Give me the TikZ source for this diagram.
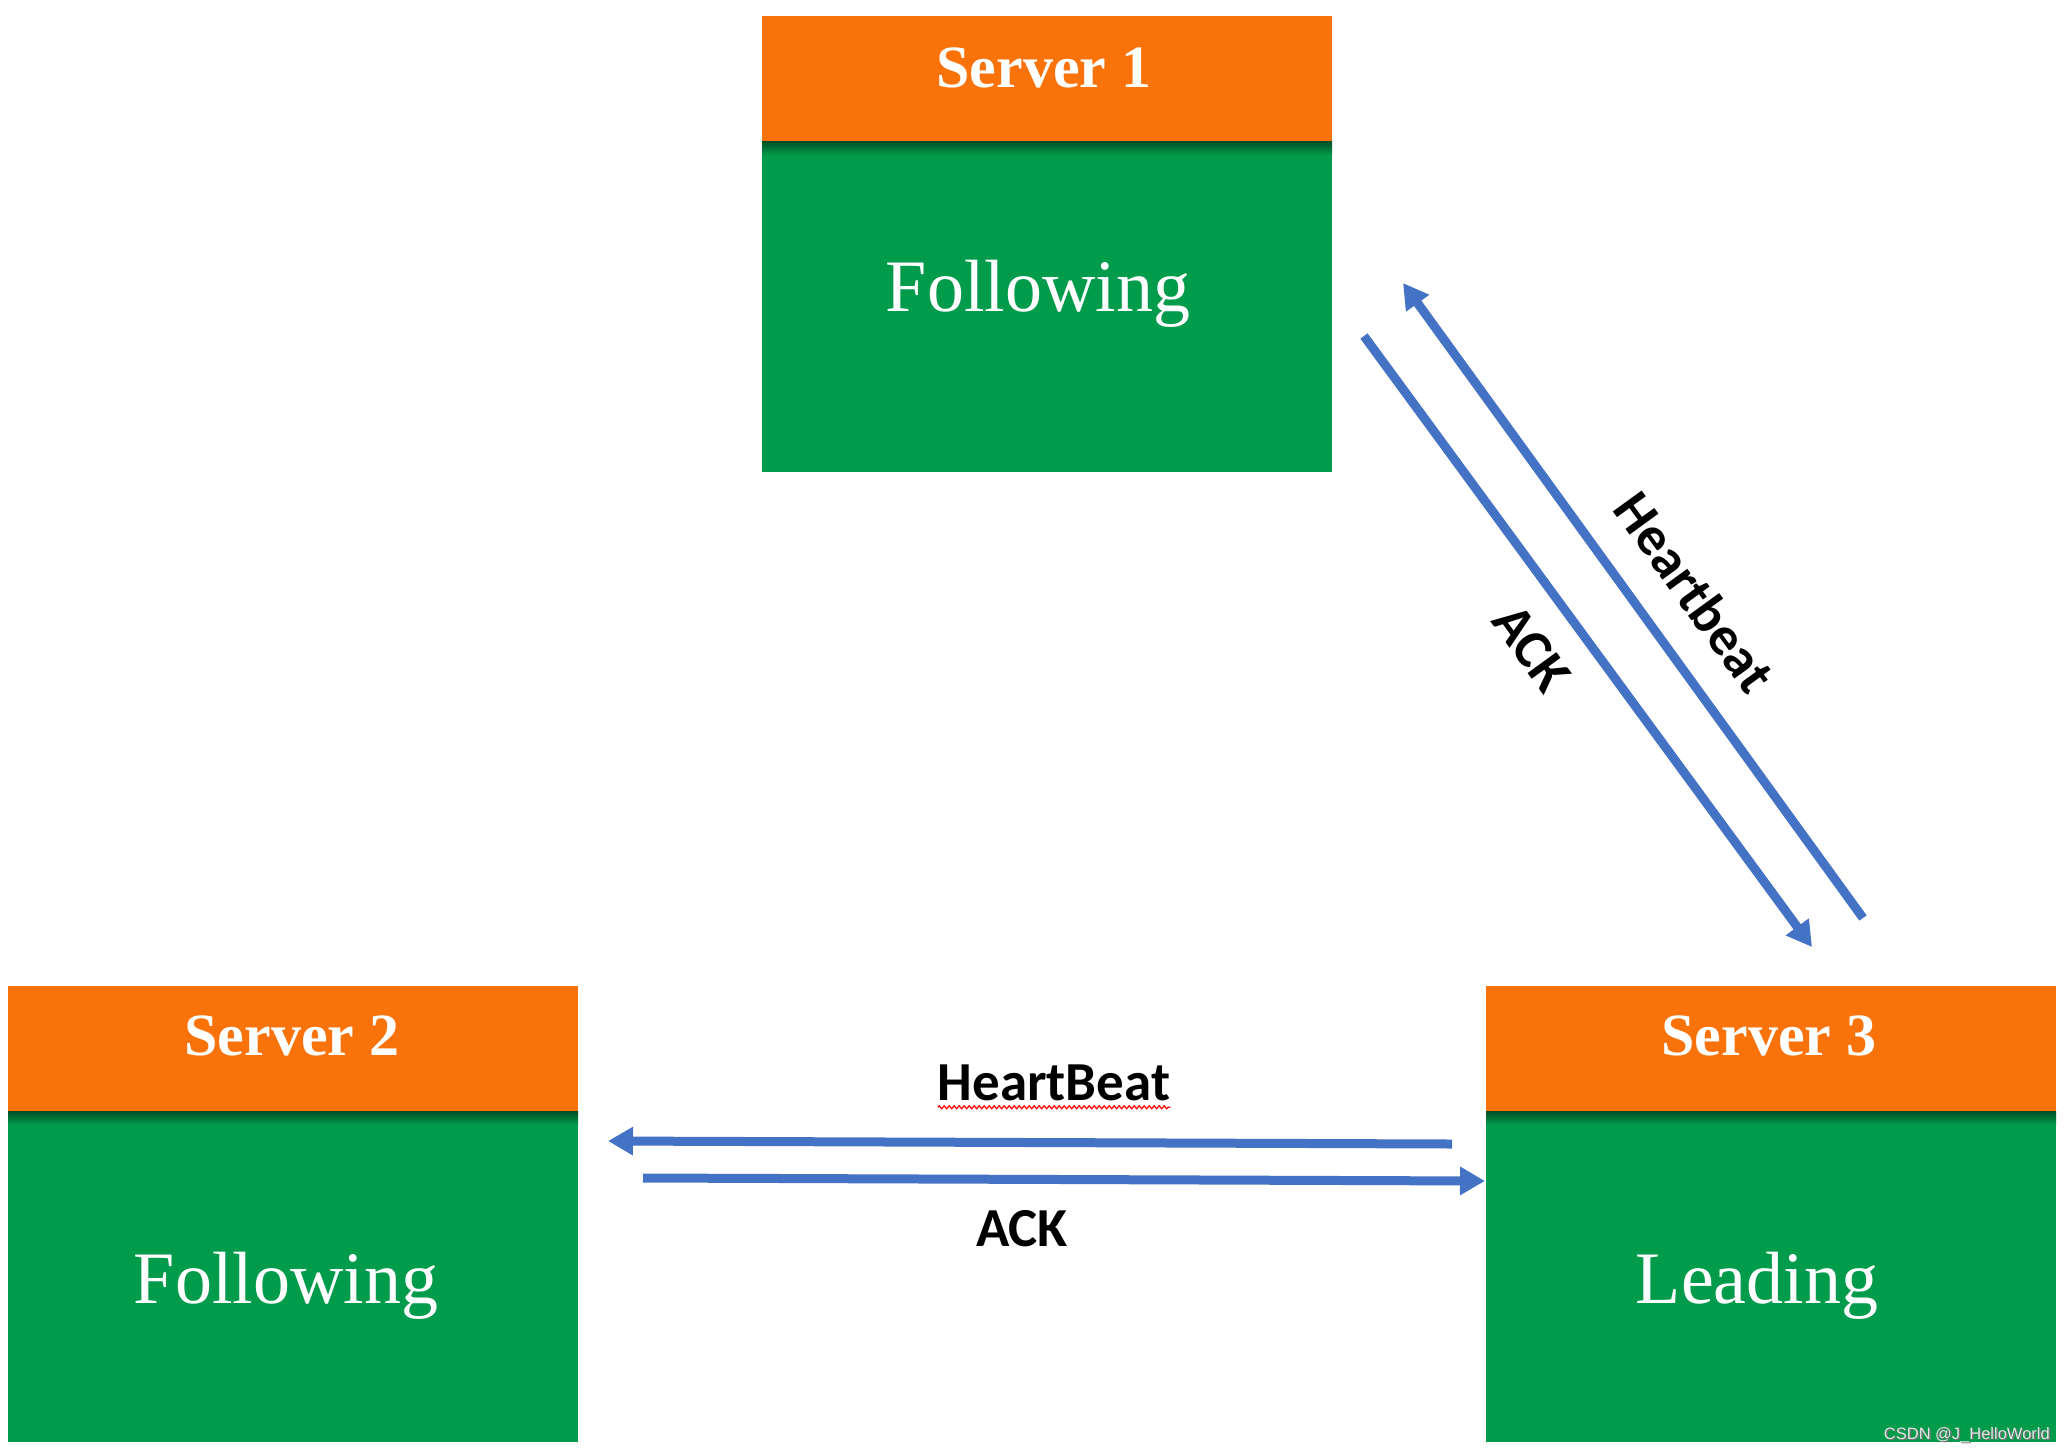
\documentclass[tikz,border=0pt]{standalone}
\usepackage{fontspec}
\setmainfont{Liberation Serif}
\newfontfamily\lblfont{Carlito}
\newfontfamily\wmfont{Liberation Sans}
\usetikzlibrary{arrows.meta,decorations.pathmorphing,calc}
\definecolor{hdrorange}{HTML}{FA730A}
\definecolor{bodygreen}{HTML}{009B4B}
\definecolor{arrowblue}{HTML}{4472C4}
\tikzset{
 hdr/.style={fill=hdrorange, draw=none, minimum width=570pt, minimum height=125pt, anchor=north west, inner sep=0pt, outer sep=0pt},
 body/.style={fill=bodygreen, draw=none, minimum width=570pt, minimum height=331pt, anchor=north west, inner sep=0pt, outer sep=0pt},
 hdrshade/.style={top color=bodygreen!50!black, bottom color=bodygreen, draw=none},
 title/.style={font=\fontsize{60}{60}\selectfont\bfseries, text=white, anchor=base, inner sep=0pt},
 state/.style={font=\fontsize{74}{74}\selectfont, text=white, anchor=base, inner sep=0pt},
 msg/.style={font=\lblfont\bfseries\fontsize{55}{55}\selectfont, text=black, inner sep=0pt},
 flow/.style={draw=arrowblue, line width=9pt, -{Triangle[length=25pt,width=27pt]}},
 wmark/.style={font=\wmfont\fontsize{16.5}{16.5}\selectfont, anchor=east, inner sep=0pt},
}
\begin{document}
\begin{tikzpicture}[x=1pt,y=-1pt]
\useasboundingbox (0,0) rectangle (2066,1454);
% Server 1
\node[hdr] (h1) at (762,16) {};
\node[body] (b1) at (762,141) {};
\fill[hdrshade] (762,141) rectangle (1332,155);
\node[title] (t1) at (1044,87) {Server 1};
\node[state] (s1) at (1038,311) {Following};
% Server 2
\node[hdr] (h2) at (8,986) {};
\node[body] (b2) at (8,1111) {};
\fill[hdrshade] (8,1111) rectangle (578,1125);
\node[title] (t2) at (292,1055) {Server 2};
\node[state] (s2) at (286,1303) {Following};
% Server 3
\node[hdr] (h3) at (1486,986) {};
\node[body] (b3) at (1486,1111) {};
\fill[hdrshade] (1486,1111) rectangle (2056,1125);
\node[title] (t3) at (1769,1055) {Server 3};
\node[state] (s3) at (1757,1303) {Leading};
% diagonal arrows
\coordinate (hbDtail) at (1863,918);
\coordinate (hbDtip) at (1403,283);
\coordinate (ackDtail) at (1364,336);
\coordinate (ackDtip) at (1812,947);
\draw[flow] (hbDtail) -- (hbDtip);
\draw[flow] (ackDtail) -- (ackDtip);
\node[msg, rotate=-54] (lhbD) at (1695,592) {Heartbeat};
\node[msg, rotate=-54] (lackD) at (1532,648) {ACK};
% horizontal arrows
\coordinate (hbHtail) at (1452,1144);
\coordinate (hbHtip) at (608,1141);
\coordinate (ackHtail) at (643,1178);
\coordinate (ackHtip) at (1485,1181);
\draw[flow] (hbHtail) -- (hbHtip);
\draw[flow] (ackHtail) -- (ackHtip);
\node[msg] (lhbH) at (1054,1083) {HeartBeat};
\draw[red, line width=1.2pt, decorate, decoration={snake, amplitude=1.5pt, segment length=5pt}] ($(lhbH.south west)+(0,6)$) -- ($(lhbH.south east)+(0,6)$);
\node[msg] (lackH) at (1022,1229) {ACK};
% watermark
\node[wmark, text=black!55] (wmshadow) at (2051.5,1436.5) {CSDN @J\_HelloWorld};
\node[wmark, text=white!80!gray] (wm) at (2050,1435) {CSDN @J\_HelloWorld};
\end{tikzpicture}
\end{document}
